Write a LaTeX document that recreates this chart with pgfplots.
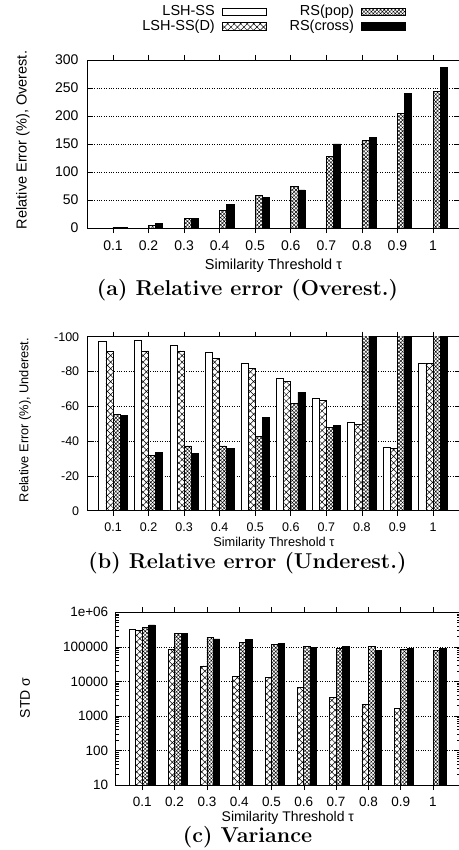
\documentclass[border=0pt]{standalone}
\usepackage{pgfplots}
\pgfplotsset{compat=1.18}
\usepackage{fontspec}
\newfontfamily\helv{Liberation Sans}
\usetikzlibrary{patterns.meta}

% bar fills, gnuplot style
\tikzset{
  lshss/.style={draw=black, fill=white},
  lshssd/.style={draw=black, preaction={fill=white}, pattern={Hatch[angle=45,distance=4.6pt,line width=0.5pt]}},
  rspop/.style={draw=black, preaction={fill=white}, pattern={Hatch[angle=45,distance=2.6pt,line width=0.45pt]}},
  rscross/.style={draw=black, fill=black},
}

\pgfplotsset{
  panel/.style={
    scale only axis, anchor=south west,
    ybar, bar width=0.2,
    xtick={1,...,10},
    xticklabels={0.1,0.2,0.3,0.4,0.5,0.6,0.7,0.8,0.9,1},
    /pgf/number format/assume math mode=true,
    ymajorgrids, grid style={dotted, black, line width=0.5pt},
    major tick length=5pt, minor tick length=3pt,
    tick style={black, line width=0.6pt},
    axis line style={line width=0.8pt},
    every axis plot/.append style={line width=0.7pt},
  },
  boxleg/.style={legend image code/.code={\draw[##1] (0pt,-3.8pt) rectangle (44pt,3.8pt);}},
}

\begin{document}
\begin{tikzpicture}

% (a) overestimation
\begin{axis}[panel,
    at={(87pt,-228pt)}, width=373pt, height=168pt,
    xmin=0.269, xmax=10.759, ymin=0, ymax=300,
    ytick={0,50,100,150,200,250,300},
    yticklabels={0,50,100,150,200,250,300},
    ticklabel style={font=\helv\fontsize{14}{16}\selectfont},
    xticklabel style={yshift=-4pt},
    yticklabel style={xshift=-5pt},
    xlabel={Similarity Threshold τ},
    ylabel={Relative Error (\%), Overest.},
    label style={font=\helv\fontsize{14.5}{16}\selectfont},
    xlabel style={at={(axis description cs:0.5,-0.226)}, anchor=center},
    ylabel style={at={(axis description cs:-0.172,0.524)}, anchor=center},
    legend style={at={(axis description cs:0.5,1.345)}, anchor=north,
      draw=none, fill=none, font=\helv\fontsize{14.5}{16}\selectfont,
      /tikz/every even column/.append style={column sep=22pt},
      /tikz/every odd column/.append style={column sep=6pt},
      nodes={inner sep=1pt, text height=10.5pt, text depth=3pt}, row sep=-1pt},
    legend cell align=right, legend plot pos=right, legend columns=2,
  ]
  \addlegendimage{boxleg, lshss}\addlegendentry{LSH-SS}
  \addlegendimage{boxleg, rspop}\addlegendentry{RS(pop)}
  \addlegendimage{boxleg, lshssd}\addlegendentry{LSH-SS(D)}
  \addlegendimage{boxleg, rscross}\addlegendentry{RS(cross)}
  \addplot[rspop, bar shift=0.1, forget plot] coordinates {
    (1,0.5) (2,5) (3,17) (4,31) (5,58) (6,74) (7,128) (8,156) (9,204) (10,244)};
  \addplot[rscross, bar shift=0.3, forget plot] coordinates {
    (1,1) (2,8) (3,17) (4,42) (5,54) (6,68) (7,150) (8,162) (9,241) (10,286)};
\end{axis}

% (b) underestimation
\begin{axis}[panel,
    at={(87.7pt,-510.7pt)}, width=372.3pt, height=174pt,
    xmin=0.288, xmax=10.759, ymin=-100, ymax=0, y dir=reverse,
    ytick={-100,-80,-60,-40,-20,0},
    yticklabels={-100,-80,-60,-40,-20,0},
    ticklabel style={font=\helv\fontsize{12.5}{14}\selectfont},
    xticklabel style={yshift=-4pt},
    yticklabel style={xshift=-5pt},
    xlabel={Similarity Threshold τ},
    ylabel={Relative Error (\%), Underest.},
    label style={font=\helv\fontsize{12.8}{14}\selectfont},
    xlabel style={at={(axis description cs:0.5,-0.186)}, anchor=center},
    ylabel style={at={(axis description cs:-0.168,0.521)}, anchor=center},
  ]
  \addplot[lshss, bar shift=-0.3] coordinates {
    (1,-97.5) (2,-97.7) (3,-95) (4,-91) (5,-84.7) (6,-76) (7,-64.8) (8,-50.8) (9,-36.4) (10,-84.7)};
  \addplot[lshssd, bar shift=-0.1] coordinates {
    (1,-91.4) (2,-91.8) (3,-91.8) (4,-87.5) (5,-82) (6,-74.5) (7,-63.6) (8,-49.6) (9,-35.8) (10,-84.7)};
  \addplot[rspop, bar shift=0.1] coordinates {
    (1,-55.4) (2,-31.8) (3,-37.2) (4,-37.2) (5,-42.9) (6,-61.7) (7,-47.9) (8,-105) (9,-105) (10,-105)};
  \addplot[rscross, bar shift=0.3] coordinates {
    (1,-55) (2,-33.3) (3,-32.8) (4,-36) (5,-53.8) (6,-68.2) (7,-49.2) (8,-105) (9,-105) (10,-105)};
\end{axis}

% (c) variance
\begin{axis}[panel,
    at={(115.7pt,-785pt)}, width=344.3pt, height=172.7pt,
    xmin=0.1765, xmax=10.836, ymode=log, log origin=infty,
    ymin=10, ymax=1000000,
    ytick={10,100,1000,10000,100000,1000000},
    yticklabels={10,100,1000,10000,100000,1e+06},
    ticklabel style={font=\helv\fontsize{13.5}{15}\selectfont},
    xticklabel style={yshift=-4pt},
    yticklabel style={xshift=-4pt},
    xlabel={Similarity Threshold τ},
    ylabel={STD σ},
    label style={font=\helv\fontsize{14}{16}\selectfont},
    xlabel style={at={(axis description cs:0.5,-0.191)}, anchor=center},
    ylabel style={at={(axis description cs:-0.263,0.504)}, anchor=center},
  ]
  \addplot[lshss, bar shift=-0.3] coordinates {(1,329000)};
  \addplot[lshssd, bar shift=-0.1] coordinates {
    (1,301000) (2,85000) (3,27900) (4,13700) (5,13100) (6,6730) (7,3460) (8,2120) (9,1660)};
  \addplot[rspop, bar shift=0.1] coordinates {
    (1,368000) (2,247000) (3,184000) (4,135000) (5,118000) (6,101000) (7,88700) (8,101000) (9,85000) (10,81000)};
  \addplot[rscross, bar shift=0.3] coordinates {
    (1,430000) (2,247000) (3,169000) (4,165000) (5,126000) (6,97000) (7,103000) (8,81000) (9,90800) (10,90800)};
\end{axis}

% sub-captions
\node[font=\bfseries\fontsize{21.5}{24}\selectfont] at (247.5pt,-290pt) {(a) Relative error (Overest.)};
\node[font=\bfseries\fontsize{21.5}{24}\selectfont] at (247.5pt,-563pt) {(b) Relative error (Underest.)};
\node[font=\bfseries\fontsize{21.5}{24}\selectfont] at (247.5pt,-837pt) {(c) Variance};

\pgfresetboundingbox
\useasboundingbox (0pt,0pt) rectangle (458pt,-850pt);
\end{tikzpicture}
\end{document}
